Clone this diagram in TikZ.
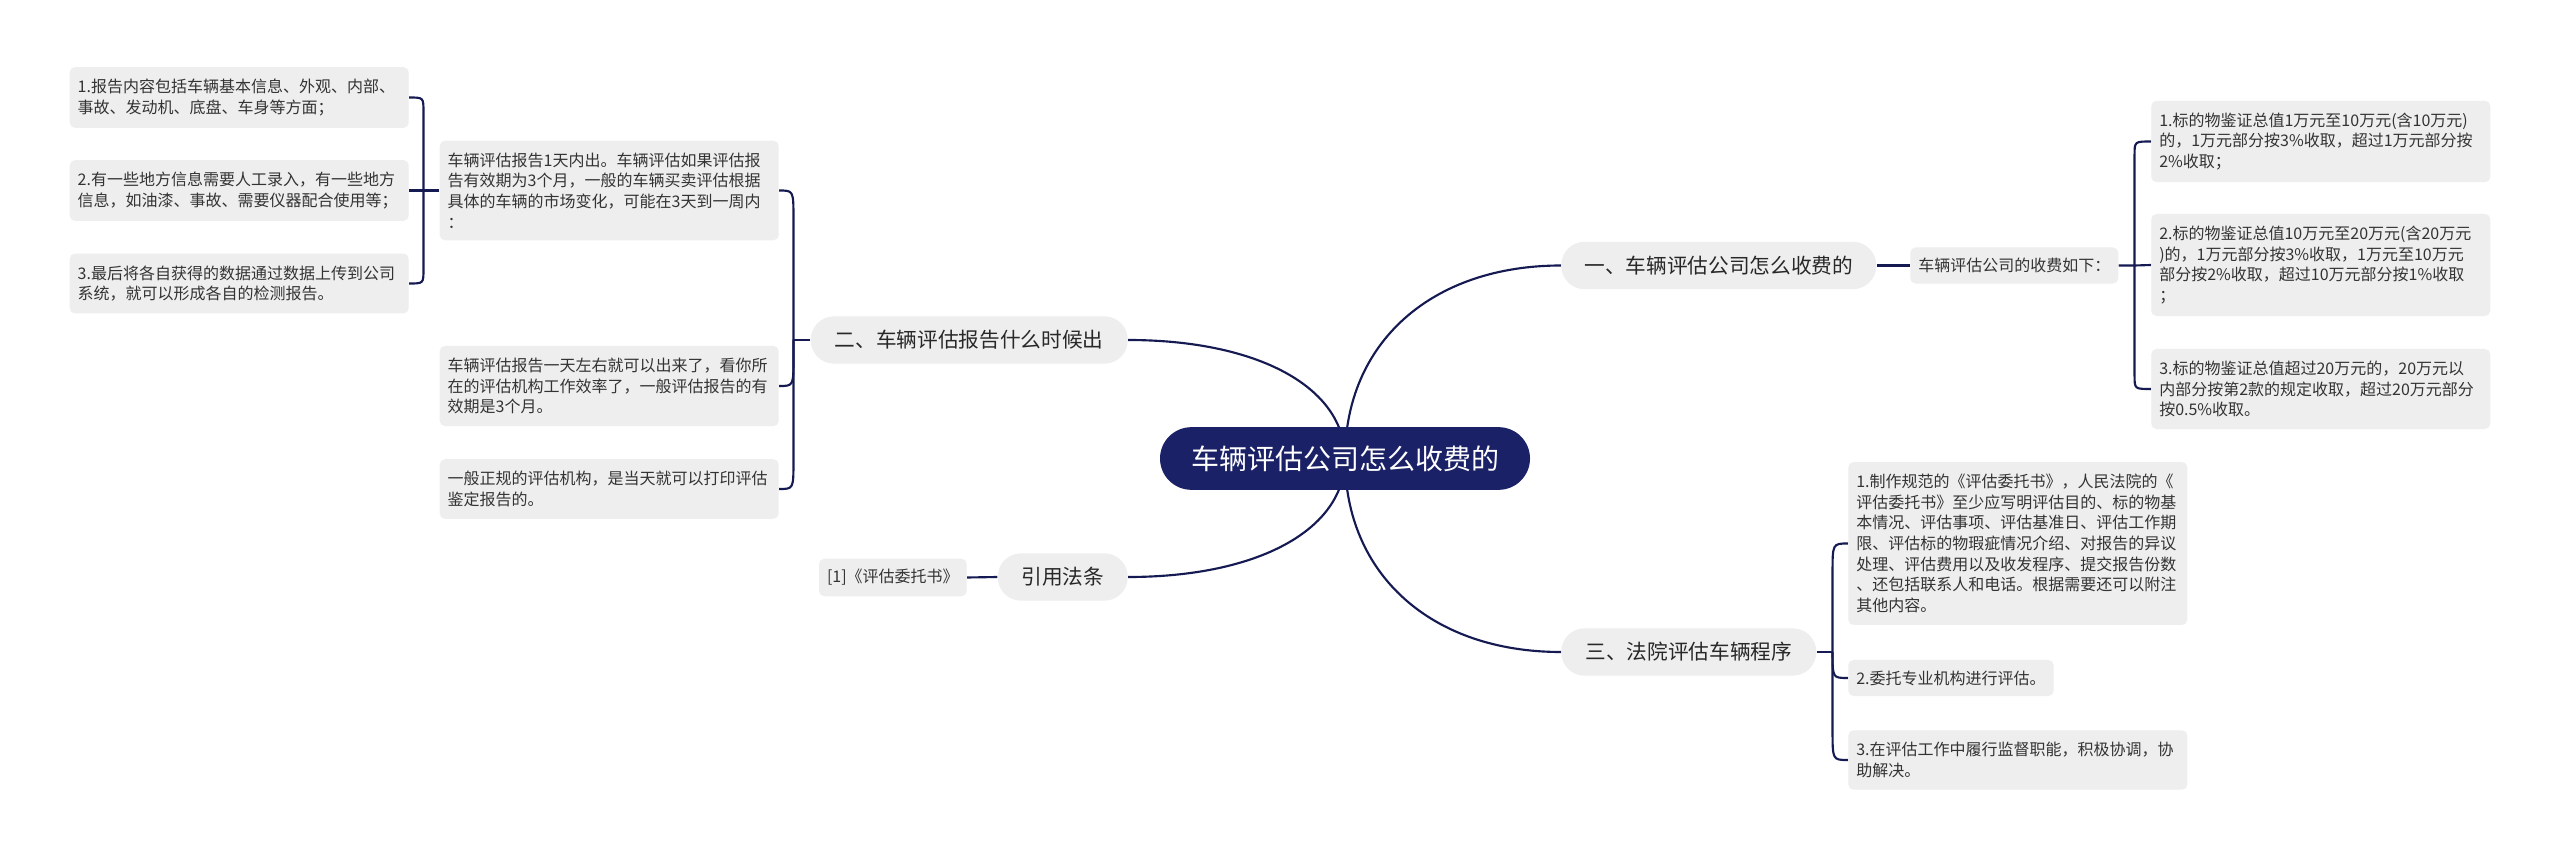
\documentclass[tikz,border=0pt]{standalone}
\usepackage{fontspec}
\setmainfont{Noto Sans CJK SC}
\usetikzlibrary{calc,backgrounds}
\definecolor{rootblue}{RGB}{27,33,102}
\definecolor{linecol}{RGB}{22,26,82}
\definecolor{nodegray}{RGB}{238,238,238}
\definecolor{txt}{RGB}{51,51,51}
\definecolor{maintxt}{RGB}{40,40,40}
\tikzset{
  leaf/.style={fill=nodegray, rounded corners=4pt, inner xsep=6pt, inner ysep=8pt,
    font=\fontsize{12pt}{15.5pt}\selectfont, text=txt, align=left},
  wleaf/.style={leaf, text width=242.25pt, inner ysep=9pt},
  mainnode/.style={fill=nodegray, rounded corners=17.5pt, minimum height=35.5pt,
    inner xsep=4pt, inner ysep=2pt, font=\fontsize{15.5pt}{18pt}\selectfont, text=maintxt},
  rootnode/.style={fill=rootblue, rounded corners=23.5pt, minimum height=47pt,
    minimum width=277.5pt, font=\fontsize{21pt}{24pt}\selectfont, text=white},
  conn/.style={draw=linecol, line width=1.6pt},
}
\begin{document}
\begin{tikzpicture}[x=0.75pt,y=-0.75pt]
\useasboundingbox (0,0) rectangle (2560,859);

% root
\node[rootnode] (root) at (1345,458.5) {车辆评估公司怎么收费的};

% main branches
\node[mainnode, minimum width=236.25pt, anchor=west] (n1) at (1561,265.5) {一、车辆评估公司怎么收费的};
\node[mainnode, minimum width=237.75pt, anchor=east] (n2) at (1128,340) {二、车辆评估报告什么时候出};
\node[mainnode, minimum width=191.25pt, anchor=west] (n3) at (1561,652) {三、法院评估车辆程序};
\node[mainnode, minimum width=97.5pt, anchor=east] (n4) at (1128,577) {引用法条};

% branch 1
\node[leaf, anchor=west] (sub1) at (1910,265.5) {车辆评估公司的收费如下：};
\node[wleaf, anchor=west] (r1) at (2151,141.5) {1.标的物鉴证总值1万元至10万元(含10万元)\\的，1万元部分按3\%收取，超过1万元部分按\\2\%收取；};
\node[wleaf, anchor=west] (r2) at (2151,265) {2.标的物鉴证总值10万元至20万元(含20万元\\)的，1万元部分按3\%收取，1万元至10万元\\部分按2\%收取，超过10万元部分按1\%收取\\；};
\node[wleaf, anchor=west] (r3) at (2151,389) {3.标的物鉴证总值超过20万元的，20万元以\\内部分按第2款的规定收取，超过20万元部分\\按0.5\%收取。};

% branch 3
\node[wleaf, anchor=west] (t1) at (1848,543.5) {1.制作规范的《评估委托书》，人民法院的《\\评估委托书》至少应写明评估目的、标的物基\\本情况、评估事项、评估基准日、评估工作期\\限、评估标的物瑕疵情况介绍、对报告的异议\\处理、评估费用以及收发程序、提交报告份数\\、还包括联系人和电话。根据需要还可以附注\\其他内容。};
\node[leaf, anchor=west] (t2) at (1848,678) {2.委托专业机构进行评估。};
\node[wleaf, anchor=west] (t3) at (1848,760) {3.在评估工作中履行监督职能，积极协调，协\\助解决。};

% branch 2
\node[wleaf, anchor=east] (A) at (779,190.5) {车辆评估报告1天内出。车辆评估如果评估报\\告有效期为3个月，一般的车辆买卖评估根据\\具体的车辆的市场变化，可能在3天到一周内\\：};
\node[wleaf, anchor=east] (B) at (779,386) {车辆评估报告一天左右就可以出来了，看你所\\在的评估机构工作效率了，一般评估报告的有\\效期是3个月。};
\node[wleaf, anchor=east] (C) at (779,489) {一般正规的评估机构，是当天就可以打印评估\\鉴定报告的。};
\node[wleaf, anchor=east] (L1) at (409,97.5) {1.报告内容包括车辆基本信息、外观、内部、\\事故、发动机、底盘、车身等方面；};
\node[wleaf, anchor=east] (L2) at (409,190.5) {2.有一些地方信息需要人工录入，有一些地方\\信息，如油漆、事故、需要仪器配合使用等；};
\node[wleaf, anchor=east] (L3) at (409,283.5) {3.最后将各自获得的数据通过数据上传到公司\\系统，就可以形成各自的检测报告。};

% branch 4
\node[leaf, anchor=east] (ref) at (967,577.5) {{[1]}《评估委托书》};

% junctions
\coordinate (j1) at ($(sub1.east)+(16,0)$);
\coordinate (j2) at ($(n2.west)+(-17,0)$);
\coordinate (j3) at ($(n3.east)+(16,0)$);
\coordinate (jA) at ($(A.west)+(-16,0)$);

\begin{scope}[on background layer]
\fill[white] (0,0) rectangle (2560,859);
% root connectors
\foreach \n/\a in {n1/west,n3/west,n2/east,n4/east}{
  \draw[conn] (root.center) .. controls ($(root.center)!0.6!(root.center |- \n.\a)$)
    and ($(\n.\a)!0.6!(root.center |- \n.\a)$) .. (\n.\a);
}
% straight links
\draw[conn] (n1.east) -- (sub1.west);
\draw[conn] (n4.west) -- (ref.east);
% bracket of sub1
\draw[conn] (sub1.east) -- (j1) -- (r2.west);
\draw[conn] (j1) -- ($(j1 |- r1.west)+(0,14)$) .. controls (j1 |- r1.west) .. (r1.west);
\draw[conn] (j1) -- ($(j1 |- r3.west)+(0,-14)$) .. controls (j1 |- r3.west) .. (r3.west);
% bracket of n3
\draw[conn] (n3.east) -- (j3);
\draw[conn] (j3) -- ($(j3 |- t1.west)+(0,30)$) .. controls (j3 |- t1.west) .. (t1.west);
\draw[conn] (j3) .. controls (j3 |- t2.west) .. (t2.west);
\draw[conn] (j3) -- ($(j3 |- t3.west)+(0,-30)$) .. controls (j3 |- t3.west) .. (t3.west);
% bracket of n2
\draw[conn] (n2.west) -- (j2);
\draw[conn] (j2) -- ($(j2 |- A.east)+(0,28)$) .. controls (j2 |- A.east) .. (A.east);
\draw[conn] (j2) -- ($(j2 |- B.east)+(0,-28)$) .. controls (j2 |- B.east) .. (B.east);
\draw[conn] (j2) -- ($(j2 |- C.east)+(0,-28)$) .. controls (j2 |- C.east) .. (C.east);
% bracket of A
\draw[conn] (A.west) -- (jA) -- (L2.east);
\draw[conn] (jA) -- ($(jA |- L1.east)+(0,14)$) .. controls (jA |- L1.east) .. (L1.east);
\draw[conn] (jA) -- ($(jA |- L3.east)+(0,-14)$) .. controls (jA |- L3.east) .. (L3.east);
\end{scope}
\end{tikzpicture}
\end{document}
